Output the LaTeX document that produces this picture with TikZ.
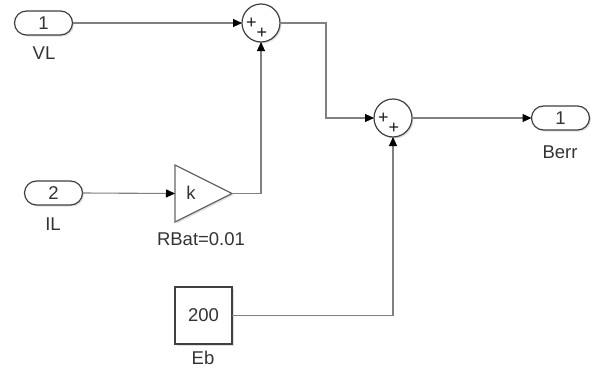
\documentclass[tikz,border=0pt]{standalone}
\usepackage{fontspec}
\setmainfont{Liberation Sans}
\usetikzlibrary{arrows.meta,shapes.geometric,shapes.misc,shadows}
\begin{document}
\begin{tikzpicture}[x=1pt,y=-1pt,
  blk/.style={draw=black!75, line width=1.2pt, fill=white, inner sep=0pt, outer sep=0pt,
    text=black!80, font=\fontsize{18.5}{18.5}\selectfont,
    drop shadow={shadow xshift=1.5pt,shadow yshift=-1.5pt,opacity=0.25}},
  port/.style={blk, rounded rectangle, minimum width=58pt, minimum height=24pt},
  sumblk/.style={blk, circle, minimum size=38pt},
  gainblk/.style={blk, isosceles triangle, isosceles triangle stretches, shape border rotate=0,
    minimum width=57pt, minimum height=57pt, draw=black!60},
  cblk/.style={blk, rectangle, minimum size=57pt},
  lbl/.style={inner sep=0pt, text=black!80, font=\fontsize{18.5}{18.5}\selectfont},
  sgn/.style={inner sep=0pt, text=black!90, font=\fontsize{18}{18}\selectfont},
  wire/.style={draw=black!50, line width=1.1pt, -{Triangle[length=9pt,width=8pt,color=black]}},
  plain/.style={draw=black!50, line width=1.1pt}]
\useasboundingbox (0,0) rectangle (594,367);

% blocks
\node[port] (vl) at (43.5,23) {1};
\node[lbl] (vlL) at (44,53) {VL};
\node[port] (il) at (53.5,193) {2};
\node[lbl] (ilL) at (53,224) {IL};
\node[gainblk, anchor=apex] (gain) at (232,193.5) {};
\node[lbl] (k) at (191,193) {k};
\node[lbl] (gainL) at (201,239) {RBat=0.01};
\node[sumblk] (s1) at (261,23) {};
\node[sgn] (s1a) at (251.5,23) {+};
\node[sgn] (s1b) at (262,33) {+};
\node[sumblk] (s2) at (393,118) {};
\node[sgn] (s2a) at (383.5,118) {+};
\node[sgn] (s2b) at (394,128) {+};
\node[port] (berr) at (560.5,118) {1};
\node[lbl] (berrL) at (560,152) {Berr};
\node[cblk] (eb) at (203.5,315.5) {200};
\node[lbl] (ebL) at (203,357.5) {Eb};

% wires
\draw[wire] (vl.east) -- (s1.west);
\draw[wire] (il.east) -- (gain.west);
\draw[wire] (gain.apex) -| (s1.south);
\draw[wire] (s1.east) -- ++(46,0) |- (s2.west);
\draw[wire] (s2.east) -- (berr.west);
\draw[wire] (eb.east) -| (s2.south);
\end{tikzpicture}
\end{document}
